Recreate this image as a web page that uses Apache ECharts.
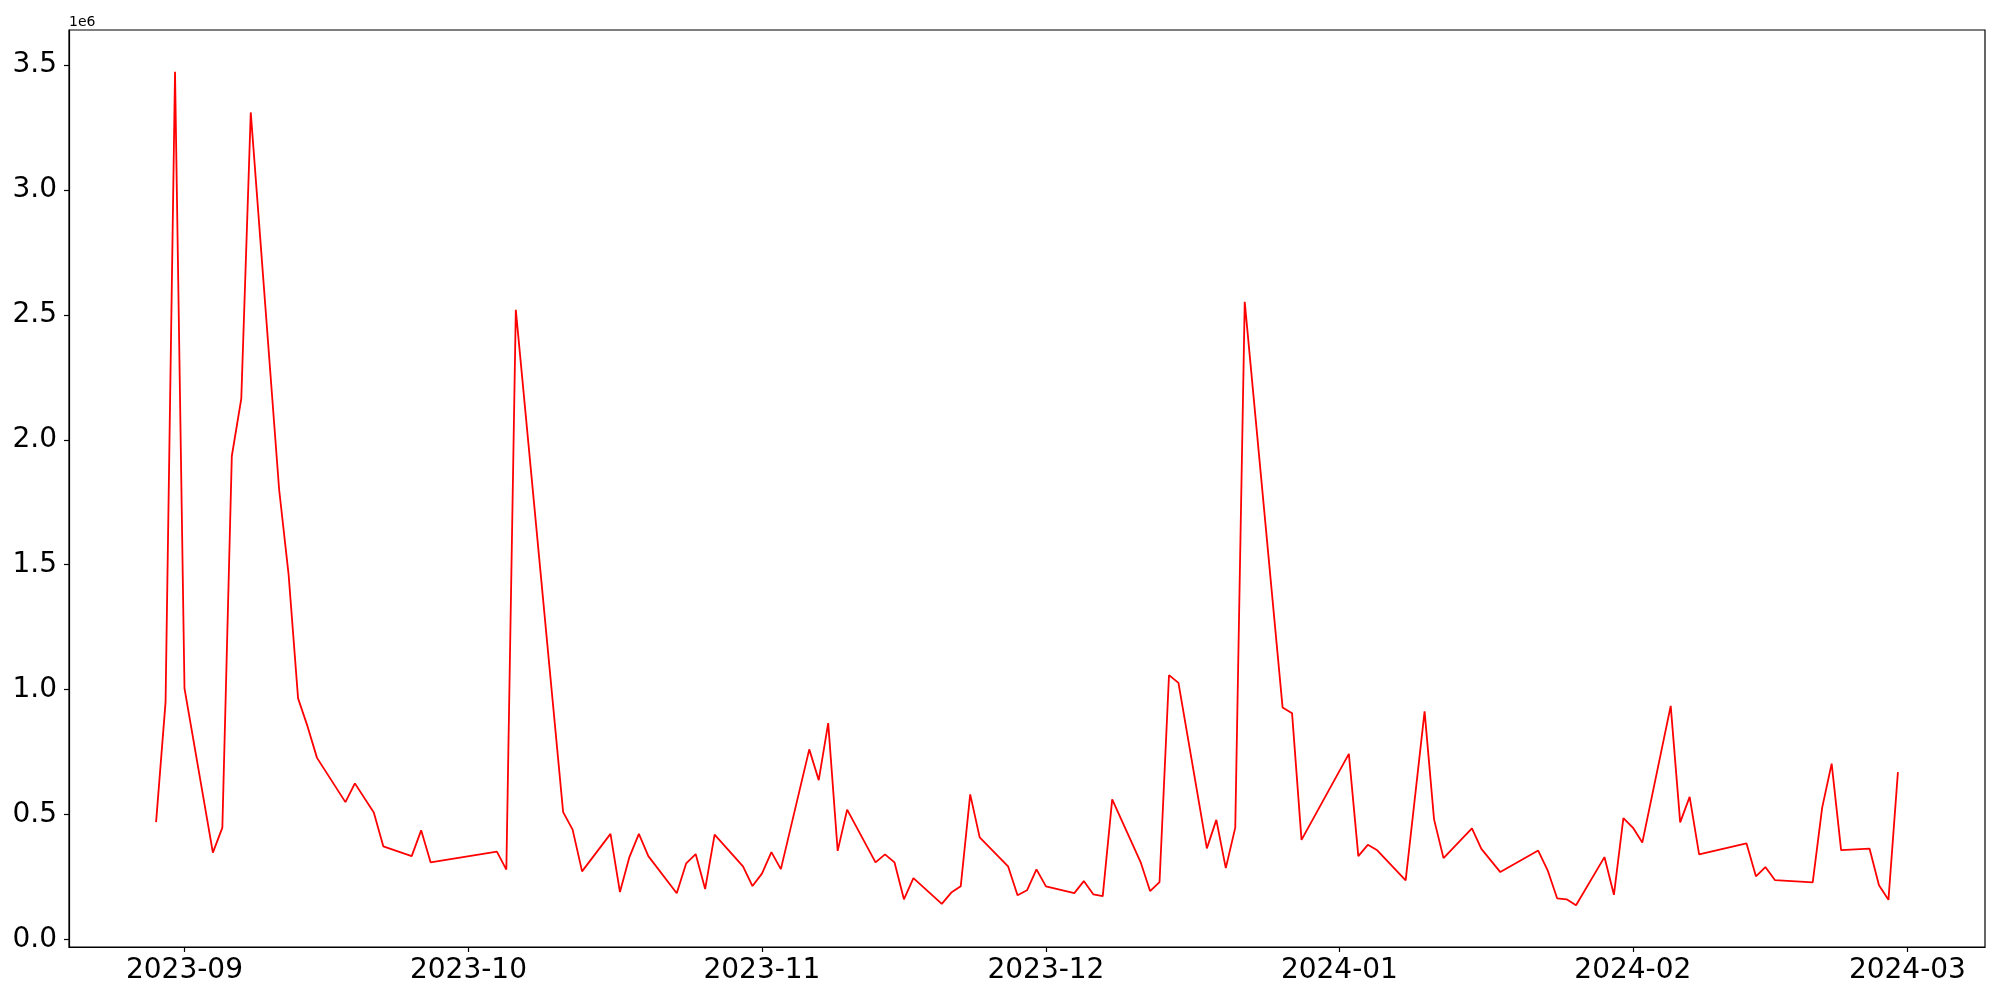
<!DOCTYPE html>
<html>
<head>
<meta charset="utf-8">
<script src="https://cdn.jsdelivr.net/npm/echarts@6/dist/echarts.min.js"></script>
<style>
  html, body { margin: 0; padding: 0; background: #fff; }
  #lineChart { width: 2000px; height: 1000px; }
</style>
</head>
<body>
<div id="lineChart"></div>
<script>
// dates of each point
const dates = [
  "2023-08-29", "2023-08-30", "2023-08-31", "2023-09-01", "2023-09-04", "2023-09-05",
  "2023-09-06", "2023-09-07", "2023-09-08", "2023-09-11", "2023-09-12", "2023-09-13",
  "2023-09-14", "2023-09-15", "2023-09-18", "2023-09-19", "2023-09-21", "2023-09-22",
  "2023-09-25", "2023-09-26", "2023-09-27", "2023-10-04", "2023-10-05", "2023-10-06",
  "2023-10-11", "2023-10-12", "2023-10-13", "2023-10-16", "2023-10-17", "2023-10-18",
  "2023-10-19", "2023-10-20", "2023-10-23", "2023-10-24", "2023-10-25", "2023-10-26",
  "2023-10-27", "2023-10-30", "2023-10-31", "2023-11-01", "2023-11-02", "2023-11-03",
  "2023-11-06", "2023-11-07", "2023-11-08", "2023-11-09", "2023-11-10", "2023-11-13",
  "2023-11-14", "2023-11-15", "2023-11-16", "2023-11-17", "2023-11-20", "2023-11-21",
  "2023-11-22", "2023-11-23", "2023-11-24", "2023-11-27", "2023-11-28", "2023-11-29",
  "2023-11-30", "2023-12-01", "2023-12-04", "2023-12-05", "2023-12-06", "2023-12-07",
  "2023-12-08", "2023-12-11", "2023-12-12", "2023-12-13", "2023-12-14", "2023-12-15",
  "2023-12-18", "2023-12-19", "2023-12-20", "2023-12-21", "2023-12-22", "2023-12-26",
  "2023-12-27", "2023-12-28", "2024-01-02", "2024-01-03", "2024-01-04", "2024-01-05",
  "2024-01-08", "2024-01-10", "2024-01-11", "2024-01-12", "2024-01-15", "2024-01-16",
  "2024-01-18", "2024-01-22", "2024-01-23", "2024-01-24", "2024-01-25", "2024-01-26",
  "2024-01-29", "2024-01-30", "2024-01-31", "2024-02-01", "2024-02-02", "2024-02-05",
  "2024-02-06", "2024-02-07", "2024-02-08", "2024-02-13", "2024-02-14", "2024-02-15",
  "2024-02-16", "2024-02-20", "2024-02-21", "2024-02-22", "2024-02-23", "2024-02-26",
  "2024-02-27", "2024-02-28", "2024-02-29"
];
const values = [
  470000, 950000, 3473000, 1005000, 348000, 448000,
  1935000, 2165000, 3310000, 1800000, 1460000, 965000,
  853000, 727000, 550000, 625000, 508000, 373000,
  334000, 437000, 309000, 352000, 280000, 2520000,
  510000, 440000, 273000, 423000, 190000, 330000,
  423000, 334000, 185000, 305000, 342000, 202000,
  420000, 293000, 214000, 264000, 350000, 282000,
  761000, 638000, 866000, 355000, 520000, 309000,
  341000, 309000, 161000, 246000, 143000, 188000,
  213000, 581000, 409000, 293000, 177000, 197000,
  281000, 213000, 186000, 234000, 181000, 174000,
  561000, 310000, 194000, 230000, 1058000, 1027000,
  365000, 479000, 286000, 448000, 2552000, 929000,
  906000, 399000, 743000, 334000, 379000, 357000,
  237000, 913000, 481000, 326000, 445000, 363000,
  270000, 356000, 277000, 165000, 161000, 137000,
  330000, 179000, 486000, 448000, 388000, 935000,
  469000, 571000, 341000, 385000, 253000, 290000,
  238000, 229000, 528000, 704000, 358000, 364000,
  217000, 159000, 670000
];
// tick positions
const monthTicks = ["2023-09-01", "2023-10-01", "2023-11-01", "2023-12-01", "2024-01-01", "2024-02-01", "2024-03-01"];
const yTicks = [0, 500000, 1000000, 1500000, 2000000, 2500000, 3000000, 3500000];

const toTime = (s) => {
  const p = s.split("-").map(Number);
  return Date.UTC(p[0], p[1] - 1, p[2]);
};
const fmtMonth = (v) => {
  const d = new Date(Math.round(v));
  const m = d.getUTCMonth() + 1;
  return d.getUTCFullYear() + "-" + (m < 10 ? "0" + m : m);
};

const drawChart = () => {
  const seriesData = dates.map((d, i) => [toTime(d), values[i]]);
  // matplotlib style 5% margins
  const tMin = toTime(dates[0]);
  const tMax = toTime(dates[dates.length - 1]);
  const tPad = (tMax - tMin) * 0.05;
  const vMin = Math.min(...values);
  const vMax = Math.max(...values);
  const vPad = (vMax - vMin) * 0.05;

  const font = "DejaVu Sans";
  let myChart = echarts.init(document.getElementById("lineChart"));
  let option = {
    animation: false,
    backgroundColor: "#fff",
    grid: {
      left: 69,
      right: 15,
      top: 30,
      bottom: 53,
      show: true,
      borderColor: "#000",
      borderWidth: 1.2
    },
    graphic: [
      {
        type: "text",
        left: 69,
        top: 15,
        style: { text: "1e6", font: "14px DejaVu Sans", fill: "#000" }
      }
    ],
    xAxis: {
      type: "value",
      min: tMin - tPad,
      max: tMax + tPad,
      splitLine: { show: false },
      axisLine: { show: true, onZero: false, lineStyle: { color: "#000", width: 1.2 } },
      axisTick: {
        show: true,
        inside: false,
        length: 5,
        lineStyle: { color: "#000", width: 1.2 },
        customValues: monthTicks.map(toTime)
      },
      axisLabel: {
        customValues: monthTicks.map(toTime),
        formatter: fmtMonth,
        fontFamily: font,
        fontSize: 28,
        color: "#000",
        margin: 10
      }
    },
    yAxis: {
      type: "value",
      min: vMin - vPad,
      max: vMax + vPad,
      splitLine: { show: false },
      axisLine: { show: true, onZero: false, lineStyle: { color: "#000", width: 1.2 } },
      axisTick: {
        show: true,
        inside: false,
        length: 5,
        lineStyle: { color: "#000", width: 1.2 },
        customValues: yTicks
      },
      axisLabel: {
        customValues: yTicks,
        formatter: (v) => (v / 1e6).toFixed(1),
        fontFamily: font,
        fontSize: 28,
        color: "#000",
        margin: 12
      }
    },
    series: [
      {
        type: "line",
        data: seriesData,
        showSymbol: false,
        lineStyle: { color: "#ff0000", width: 1.8 },
        itemStyle: { color: "#ff0000" }
      }
    ]
  };
  myChart.setOption(option);
};
drawChart();
</script>
</body>
</html>
